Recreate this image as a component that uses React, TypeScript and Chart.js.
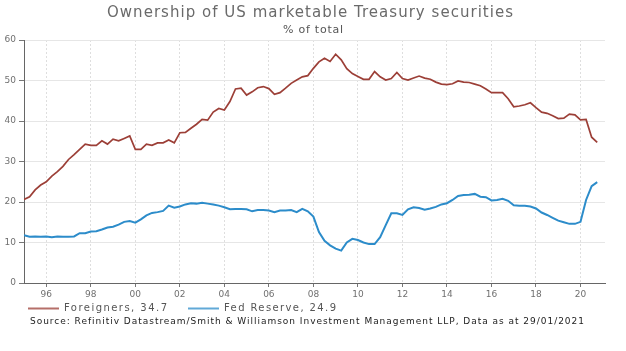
import React, { useEffect, useRef } from 'react';
import { Chart, registerables } from 'chart.js';

Chart.register(...registerables);

// ---- Data (quarterly, starting Q1 1995) ----
const START_YEAR = 1995;
const STEP = 0.25;

const foreigners = [
  20.6, 21.3, 23.0, 24.2, 25.0, 26.4, 27.5, 28.8, 30.5, 31.7,
  33.0, 34.3, 34.0, 34.0, 35.1, 34.3, 35.5, 35.1, 35.7, 36.3,
  33.0, 33.0, 34.3, 34.0, 34.6, 34.6, 35.3, 34.6, 37.1, 37.2,
  38.2, 39.2, 40.4, 40.2, 42.2, 43.1, 42.7, 44.8, 47.9, 48.1,
  46.4, 47.2, 48.2, 48.5, 48.0, 46.6, 47.0, 48.1, 49.3, 50.1,
  50.9, 51.2, 53.0, 54.6, 55.5, 54.7, 56.5, 55.1, 52.9, 51.7,
  51.0, 50.3, 50.3, 52.2, 50.9, 50.1, 50.5, 52.0, 50.5, 50.1,
  50.6, 51.1, 50.6, 50.3, 49.6, 49.1, 49.0, 49.2, 49.9, 49.6,
  49.5, 49.1, 48.7, 47.9, 47.0, 47.0, 47.0, 45.5, 43.5, 43.7,
  44.0, 44.5, 43.3, 42.2, 41.9, 41.3, 40.6, 40.7, 41.7, 41.5,
  40.3, 40.4, 36.0, 34.7,
];

const fedReserve = [
  11.8, 11.4, 11.5, 11.4, 11.5, 11.3, 11.5, 11.4, 11.4, 11.5,
  12.3, 12.3, 12.7, 12.8, 13.2, 13.7, 13.9, 14.4, 15.1, 15.3,
  14.9, 15.7, 16.7, 17.3, 17.5, 17.8, 19.1, 18.6, 18.9, 19.4,
  19.7, 19.6, 19.8, 19.6, 19.4, 19.1, 18.7, 18.2, 18.3, 18.3,
  18.2, 17.7, 18.0, 18.0, 17.9, 17.5, 17.9, 17.9, 18.0, 17.5,
  18.3, 17.7, 16.4, 12.6, 10.4, 9.3, 8.5, 8.0, 10.0, 10.9,
  10.6, 10.0, 9.6, 9.6, 11.3, 14.3, 17.2, 17.2, 16.8, 18.2,
  18.7, 18.5, 18.1, 18.4, 18.8, 19.4, 19.7, 20.5, 21.5, 21.7,
  21.8, 22.0, 21.3, 21.2, 20.4, 20.5, 20.8, 20.3, 19.2, 19.1,
  19.1, 18.9, 18.4, 17.4, 16.8, 16.1, 15.4, 15.0, 14.6, 14.6,
  15.1, 20.5, 23.9, 24.9,
];

const seriesNames = ['Foreigners', 'Fed Reserve'];
const seriesColors = ['#9c3f37', '#2c8cca'];
const xTickYears = [1996, 1998, 2000, 2002, 2004, 2006, 2008, 2010, 2012, 2014, 2016, 2018, 2020];
const yMin = 0;
const yMax = 60;
const yStep = 10;

const titleText = 'Ownership of US marketable Treasury securities';
const subtitleText = '% of total';
const sourceText = 'Source: Refinitiv Datastream/Smith & Williamson Investment Management LLP, Data as at 29/01/2021';

const FONT = '"DejaVu Sans", Verdana, sans-serif';

function toPoints(values: number[]) {
  return values.map((v, i) => ({ x: START_YEAR + i * STEP, y: v }));
}

function drawFitted(
  ctx: CanvasRenderingContext2D,
  text: string,
  x: number,
  y: number,
  size: number,
  color: string,
  targetWidth: number,
  align: 'left' | 'center'
) {
  ctx.save();
  ctx.font = `${size}px ${FONT}`;
  (ctx as any).letterSpacing = '0px';
  const w = ctx.measureText(text).width;
  const n = Array.from(text).length;
  const ls = Math.max(0, (targetWidth - w) / Math.max(1, n - 1));
  (ctx as any).letterSpacing = `${ls}px`;
  const total = w + ls * (n - 1);
  ctx.fillStyle = color;
  ctx.textAlign = 'left';
  ctx.textBaseline = 'middle';
  const sx = align === 'center' ? x - total / 2 : x;
  ctx.fillText(text, sx, y);
  ctx.restore();
}

const decorPlugin = {
  id: 'decor',
  afterDraw(chart: any) {
    const ctx: CanvasRenderingContext2D = chart.ctx;
    drawFitted(ctx, titleText, 310, 13, 15, '#6a6a6a', 406, 'center');
    drawFitted(ctx, subtitleText, 313, 30, 11, '#555555', 60, 'center');

    // legend
    const legendX = [28, 188];
    const legendTextW = [103, 112];
    const legendY = 308.5;
    chart.data.datasets.forEach((ds: any, i: number) => {
      const vals = ds.data;
      const last = vals[vals.length - 1].y;
      const label = `${seriesNames[i]}, ${last.toFixed(1)}`;
      ctx.save();
      ctx.strokeStyle = ds.borderColor;
      ctx.globalAlpha = 0.75;
      ctx.lineWidth = 2;
      ctx.beginPath();
      ctx.moveTo(legendX[i], legendY);
      ctx.lineTo(legendX[i] + 31, legendY);
      ctx.stroke();
      ctx.restore();
      drawFitted(ctx, label, legendX[i] + 36, legendY, 10, '#555555', legendTextW[i], 'left');
    });

    drawFitted(ctx, sourceText, 30, 322, 9, '#222222', 554, 'left');
  },
};

export default function App() {
  const canvasRef = useRef<HTMLCanvasElement | null>(null);

  useEffect(() => {
    const canvas = canvasRef.current;
    if (!canvas) return;
    const chart = new Chart(canvas, {
      type: 'line',
      data: {
        datasets: [
          {
            label: seriesNames[0],
            data: toPoints(foreigners),
            borderColor: seriesColors[0],
            backgroundColor: seriesColors[0],
            borderWidth: 1.7,
            pointRadius: 0,
            tension: 0,
          },
          {
            label: seriesNames[1],
            data: toPoints(fedReserve),
            borderColor: seriesColors[1],
            backgroundColor: seriesColors[1],
            borderWidth: 2,
            pointRadius: 0,
            tension: 0,
          },
        ],
      },
      options: {
        animation: false,
        responsive: false,
        devicePixelRatio: 1,
        layout: { padding: { top: 40, right: 21, bottom: 48, left: 0 } },
        plugins: {
          legend: { display: false },
          title: { display: false },
          tooltip: { enabled: false },
        },
        scales: {
          x: {
            type: 'linear',
            min: 1995,
            max: 2021.1,
            afterBuildTicks: (s: any) => {
              s.ticks = xTickYears.map((v) => ({ value: v }));
            },
            afterFit: (s: any) => {
              s.height = 20;
            },
            ticks: {
              autoSkip: false,
              maxRotation: 0,
              padding: 2,
              color: '#707070',
              font: { family: FONT, size: 9 },
              callback: (v: any) => String(Math.round(Number(v)) % 100).padStart(2, '0'),
            },
            grid: { color: '#dedede', lineWidth: 1, tickLength: 4, tickColor: '#777777' },
            border: { color: '#666666', width: 1, dash: [2, 2] },
          },
          y: {
            min: yMin,
            max: yMax,
            afterFit: (s: any) => {
              s.width = 24;
            },
            ticks: {
              stepSize: yStep,
              padding: 3,
              color: '#707070',
              font: { family: FONT, size: 9 },
            },
            grid: {
              color: (c: any) => (c.tick && c.tick.value === 0 ? 'rgba(0,0,0,0)' : '#e6e6e6'),
              lineWidth: 1,
              tickLength: 5,
              tickColor: '#777777',
            },
            border: { color: '#666666', width: 1 },
          },
        },
      },
      plugins: [decorPlugin],
    } as any);
    return () => chart.destroy();
  }, []);

  return (
    <div
      style={{
        position: 'fixed',
        left: 0,
        top: 0,
        width: 626,
        height: 351,
        background: '#ffffff',
      }}
    >
      <canvas ref={canvasRef} width={626} height={351} style={{ display: 'block', width: 626, height: 351 }} />
    </div>
  );
}
